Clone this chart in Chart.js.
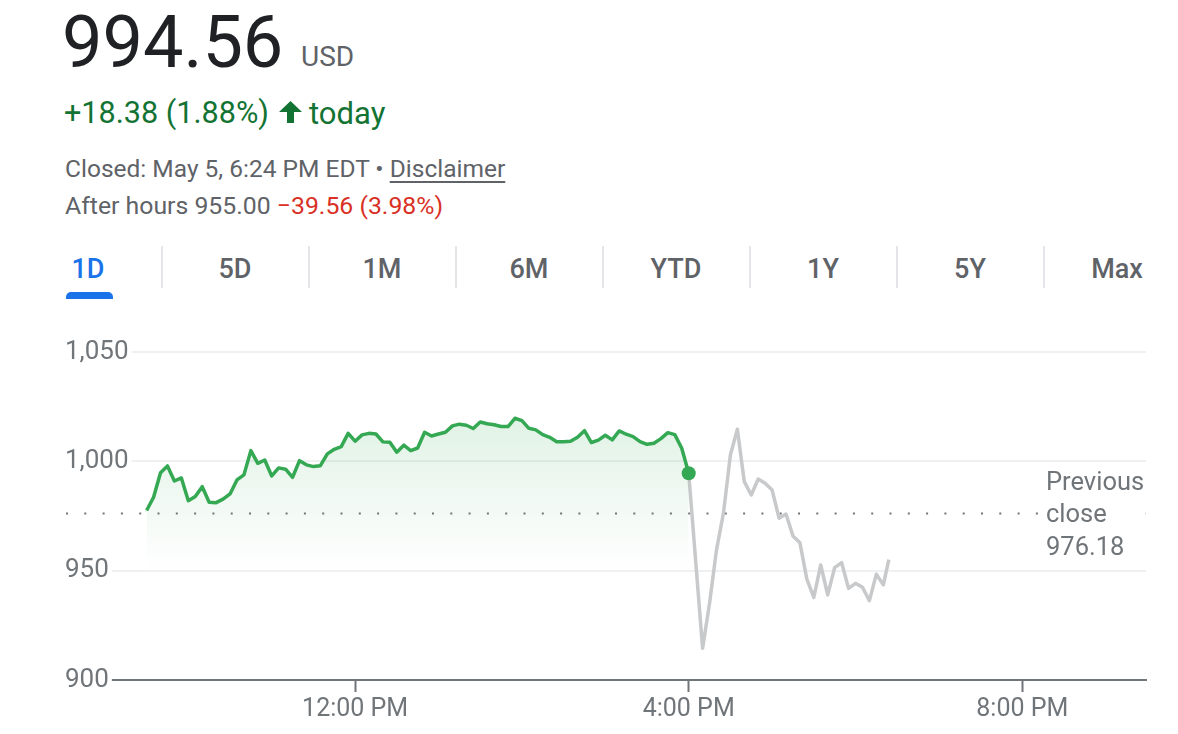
<!DOCTYPE html>
<html>
<head>
<meta charset="utf-8">
<script src="https://cdn.jsdelivr.net/npm/chart.js@4.4.1/dist/chart.umd.min.js"></script>
<style>
html,body{margin:0;padding:0;background:#fff;width:1178px;height:734px;overflow:hidden;font-family:Roboto,Arial,sans-serif;}
.abs{position:absolute;white-space:nowrap;line-height:1;}
#price{left:62px;top:7px;font-size:72px;color:#202124;}
#cur{left:301px;top:43px;font-size:28px;color:#5f6368;}
#chg{left:64px;top:98px;font-size:30.6px;color:#137333;}
#arrow{position:absolute;left:279px;top:101px;width:23px;height:22px;}
#today{left:309px;top:98px;font-size:31px;color:#137333;}
#closed{left:65px;top:157px;font-size:24.5px;color:#5f6368;}
#closed u{text-decoration-thickness:2px;text-underline-offset:4px;}
#after{left:65px;top:194px;font-size:24.8px;color:#5f6368;}
#after .neg{color:#d93025;}
.tab{position:absolute;top:256px;width:146px;text-align:center;font-size:27px;font-weight:500;color:#5f6368;line-height:1;}
.tab.active{color:#1a73e8;}
.sep{position:absolute;top:246px;width:2px;height:42px;background:#e3e5e8;}
#uline{position:absolute;left:66px;top:292px;width:47px;height:7px;background:#1a73e8;border-radius:5px 5px 0 0;}
#wrap{position:absolute;left:0;top:330px;width:1178px;height:404px;}
</style>
</head>
<body>
<div class="abs" id="price">994.56</div>
<div class="abs" id="cur">USD</div>
<div class="abs" id="chg">+18.38 (1.88%)</div>
<svg id="arrow" viewBox="0 0 23 22"><path d="M11.5 0 L23 11 L15 11 L15 22 L8 22 L8 11 L0 11 Z" fill="#137333"/></svg>
<div class="abs" id="today">today</div>
<div class="abs" id="closed">Closed: May 5, 6:24 PM EDT • <u>Disclaimer</u></div>
<div class="abs" id="after">After hours 955.00 <span class="neg">−39.56 (3.98%)</span></div>

<div id="tabs"></div>
<div id="uline"></div>

<div id="wrap"><canvas id="c"></canvas></div>

<script>
// ---- data ----
const tabLabels = ['1D','5D','1M','6M','YTD','1Y','5Y','Max'];
const sessionStartMinute = 570;   // 9:30 AM
const sessionStepMinutes = 5;
const sessionPrices = [
  977.5, 983.6, 994.8, 997.9, 991.0, 992.4, 982.0, 983.9, 988.4, 981.3,
  981.1, 982.7, 985.1, 991.5, 993.8, 1004.9, 999.1, 1000.6, 993.3, 997.0,
  996.4, 992.7, 1000.3, 998.4, 997.6, 998.0, 1003.4, 1005.5, 1006.7, 1012.8,
  1009.2, 1012.1, 1012.8, 1012.5, 1008.9, 1008.7, 1004.2, 1007.4, 1004.9, 1006.1,
  1013.3, 1011.6, 1012.5, 1013.3, 1016.2, 1017.0, 1016.5, 1015.0, 1018.0, 1017.2,
  1016.7, 1015.9, 1015.9, 1019.7, 1018.6, 1015.1, 1014.4, 1012.2, 1011.0, 1009.0,
  1009.0, 1009.2, 1011.0, 1014.0, 1008.6, 1009.7, 1011.9, 1009.8, 1013.9, 1012.4,
  1011.3, 1009.0, 1007.8, 1008.3, 1010.4, 1013.1, 1012.2, 1006.0, 994.56
];
const afterHoursMinutes = [
  970, 975, 980, 985, 990, 995, 1000, 1005, 1010, 1015,
  1020, 1025, 1030, 1035, 1040, 1045, 1050, 1055, 1060, 1065,
  1070, 1075, 1080, 1085, 1090, 1095, 1100, 1104
];
const afterHoursPrices = [
  914.5, 935.1, 959.5, 976.3, 1002.9, 1014.7, 990.7, 984.6, 991.9, 990.0,
  986.9, 974.0, 975.9, 965.9, 962.8, 946.1, 937.8, 952.6, 938.9, 951.4,
  953.7, 941.9, 944.2, 942.4, 936.3, 948.4, 943.5, 955.0
];
const previousClose = 976.18;
const yTickValues = [900, 950, 1000, 1050];
const xTickMinutes = [720, 960, 1200];
const xTickLabels = ['12:00 PM', '4:00 PM', '8:00 PM'];
const prevCloseLines = ['Previous', 'close', '976.18'];

// ---- tabs ----
const tabsEl = document.getElementById('tabs');
tabLabels.forEach((t, i) => {
  const d = document.createElement('div');
  d.className = 'tab' + (i === 0 ? ' active' : '');
  d.style.left = (88 + i * 147 - 73) + 'px';
  d.textContent = t;
  tabsEl.appendChild(d);
  if (i > 0) {
    const s = document.createElement('div');
    s.className = 'sep';
    s.style.left = (88 + i * 147 - 74.5) + 'px';
    tabsEl.appendChild(s);
  }
});

// ---- chart ----
const xMin = 512, xMax = 1289;
const sessionData = sessionPrices.map((v, i) => ({x: sessionStartMinute + i * sessionStepMinutes, y: v}));
const lastSession = sessionData[sessionData.length - 1];
const afterData = [lastSession].concat(afterHoursPrices.map((v, i) => ({x: afterHoursMinutes[i], y: v})));
const prevData = [{x: xMin, y: previousClose}, {x: xMax, y: previousClose}];

const GREEN = '#34a853';
const LABEL = '#70757a';

const prevClosePlugin = {
  id: 'prevCloseLabel',
  afterDraw(chart) {
    const {ctx, chartArea, scales} = chart;
    const py = scales.y.getPixelForValue(previousClose);
    const x = chartArea.right - 100;
    ctx.save();
    ctx.fillStyle = '#fff';
    ctx.fillRect(x - 5, py - 6, chartArea.right - x + 3, 12);
    ctx.fillStyle = LABEL;
    ctx.font = '25.5px Roboto, Arial, sans-serif';
    ctx.textAlign = 'left';
    ctx.textBaseline = 'alphabetic';
    ctx.fillText(prevCloseLines[0], x, py - 23.5);
    ctx.fillText(prevCloseLines[1], x, py + 8.5);
    ctx.fillText(prevCloseLines[2], x, py + 41.5);
    ctx.restore();
  }
};

new Chart(document.getElementById('c'), {
  type: 'line',
  data: {
    datasets: [
      {
        data: sessionData,
        borderColor: GREEN,
        borderWidth: 3.5,
        borderJoinStyle: 'round',
        tension: 0,
        fill: 'start',
        backgroundColor: (c) => {
          const {chart} = c;
          const {ctx, chartArea, scales} = chart;
          if (!chartArea) return 'rgba(52,168,83,0.1)';
          const top = scales.y.getPixelForValue(Math.max(...sessionPrices));
          const bottom = scales.y.getPixelForValue(yTickValues[1]);
          const g = ctx.createLinearGradient(0, top, 0, bottom);
          g.addColorStop(0, 'rgba(52,168,83,0.15)');
          g.addColorStop(1, 'rgba(52,168,83,0.0)');
          return g;
        },
        pointRadius: (c) => c.dataIndex === sessionPrices.length - 1 ? 7 : 0,
        pointHoverRadius: 0,
        pointBackgroundColor: GREEN,
        pointBorderWidth: 0,
        order: 0
      },
      {
        data: afterData,
        borderColor: '#c8c9cb',
        borderWidth: 3.5,
        borderJoinStyle: 'round',
        tension: 0,
        fill: false,
        pointRadius: 0,
        order: 1
      },
      {
        data: prevData,
        borderColor: '#70757a',
        borderWidth: 2,
        borderDash: [2, 16.3],
        borderCapStyle: 'butt',
        fill: false,
        pointRadius: 0,
        order: 2
      }
    ]
  },
  options: {
    responsive: true,
    maintainAspectRatio: false,
    animation: false,
    events: [],
    layout: {padding: {left: 66, right: 32, top: 22, bottom: 0}},
    plugins: {legend: {display: false}, tooltip: {enabled: false}},
    scales: {
      x: {
        type: 'linear',
        min: xMin,
        max: xMax,
        afterBuildTicks: (s) => { s.ticks = xTickMinutes.map(v => ({value: v})); },
        afterFit: (s) => { s.height = 54; },
        ticks: {
          autoSkip: false,
          maxRotation: 0,
          padding: 3,
          color: LABEL,
          font: {family: 'Roboto', size: 25},
          callback: (v) => xTickLabels[xTickMinutes.indexOf(v)]
        },
        grid: {drawOnChartArea: false, drawTicks: true, tickLength: 12, tickColor: LABEL, tickWidth: 2},
        border: {display: true, color: LABEL, width: 2}
      },
      y: {
        min: yTickValues[0],
        max: yTickValues[yTickValues.length - 1],
        afterBuildTicks: (s) => { s.ticks = yTickValues.map(v => ({value: v})); },
        afterFit: (s) => { s.width = 0; },
        ticks: {
          mirror: true,
          padding: -1,
          z: 1,
          color: LABEL,
          font: {family: 'Roboto', size: 26},
          showLabelBackdrop: true,
          backdropColor: '#ffffff',
          backdropPadding: {left: 2, right: 3, top: 0, bottom: 0},
          callback: (v) => v.toLocaleString('en-US')
        },
        grid: {color: '#eef0f1', lineWidth: 2, drawTicks: false},
        border: {display: false}
      }
    }
  },
  plugins: [prevClosePlugin]
});
</script>
</body>
</html>
